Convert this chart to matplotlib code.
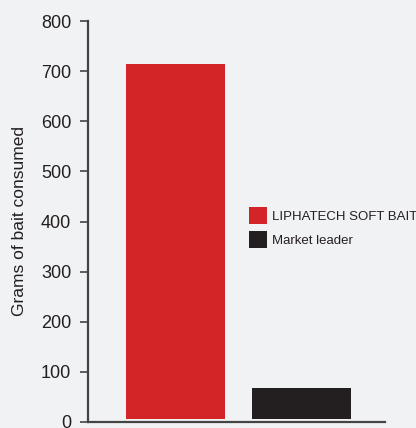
import matplotlib.pyplot as plt
from matplotlib.patches import Patch

products = ['LIPHATECH SOFT BAIT', 'Market leader']
grams = [714, 68]
colors = ['#d32528', '#231f20']
y_ticks = [0, 100, 200, 300, 400, 500, 600, 700, 800]

plt.rcParams['font.family'] = ['Liberation Sans', 'DejaVu Sans']
bg = '#f1f2f4'

fig = plt.figure(figsize=(4.16, 4.28), dpi=100, facecolor=bg)
ax = fig.add_axes([88 / 416, 6 / 428, 297 / 416, 401 / 428], facecolor=bg)

gap = 6  # small gap between bars and the x axis
xs = range(len(products))
ax.bar(xs, [g - gap for g in grams], bottom=gap, width=0.786, color=colors)

ax.set_ylim(0, 800)
ax.set_xlim(-0.694, 1.663)
ax.set_yticks(y_ticks)
ax.set_xticks([])
ax.tick_params(axis='y', length=6, width=1.2, color='#444444', labelsize=13,
               labelcolor='#231f20', pad=6)
for side in ['top', 'right']:
    ax.spines[side].set_visible(False)
for side in ['left', 'bottom']:
    ax.spines[side].set_color('#444444')
    ax.spines[side].set_linewidth(1.6)
ax.spines['left'].set_bounds(0, 800)

ax.set_ylabel('Grams of bait consumed', fontsize=12.5, color='#231f20')
ax.yaxis.set_label_coords(-61 / 297, 0.5)

handles = [Patch(facecolor=c, edgecolor='none') for c in colors]
fig.legend(handles, products, loc='upper left', bbox_to_anchor=(249 / 416, 1 - 207 / 428),
           frameon=False, fontsize=9.5, handlelength=1.36, handleheight=1.6,
           handletextpad=0.38, labelspacing=0.55, labelcolor='#231f20',
           borderpad=0, borderaxespad=0)

fig.savefig('out.png', dpi=100, facecolor=bg)
